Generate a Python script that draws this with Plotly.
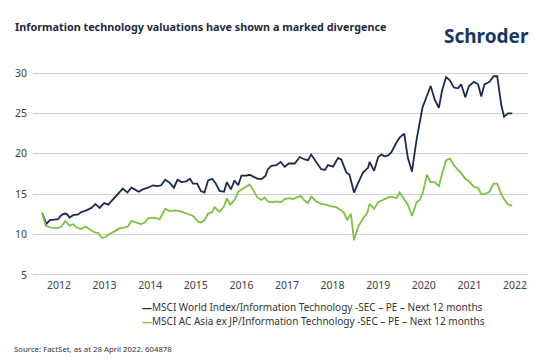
import plotly.graph_objects as go

# Time in fractional years
world_t = [2012.13, 2012.22, 2012.30, 2012.40, 2012.48, 2012.55, 2012.62, 2012.68, 2012.73, 2012.81,
           2012.92, 2012.99, 2013.10, 2013.21, 2013.30, 2013.39, 2013.49, 2013.58, 2013.68, 2013.79,
           2013.90, 2014.00, 2014.09, 2014.16, 2014.25, 2014.34, 2014.45, 2014.56, 2014.67, 2014.74,
           2014.83, 2014.93, 2015.02, 2015.10, 2015.18, 2015.29, 2015.37, 2015.44, 2015.53, 2015.61,
           2015.69, 2015.77, 2015.86, 2015.93, 2016.02, 2016.12, 2016.18, 2016.27, 2016.35, 2016.43,
           2016.50, 2016.61, 2016.68, 2016.75, 2016.86, 2016.95, 2017.03,
           2017.08, 2017.16, 2017.27, 2017.36, 2017.45, 2017.54, 2017.67, 2017.78, 2017.89, 2017.96,
           2018.03, 2018.14, 2018.25, 2018.33, 2018.40, 2018.51, 2018.62, 2018.69, 2018.80, 2018.87,
           2018.97, 2019.06, 2019.17, 2019.28, 2019.31, 2019.41, 2019.50, 2019.57, 2019.64, 2019.72,
           2019.79, 2019.90, 2019.97, 2020.07, 2020.15, 2020.24, 2020.34, 2020.47, 2020.56, 2020.65,
           2020.74, 2020.83, 2020.90, 2020.99, 2021.07, 2021.16, 2021.25, 2021.32, 2021.41, 2021.49,
           2021.60, 2021.69, 2021.76, 2021.83, 2021.94, 2022.03, 2022.11, 2022.20, 2022.26, 2022.35,
           2022.44]
world_pe = [12.7, 11.3, 11.8, 11.9, 11.9, 12.4, 12.6, 12.5, 12.1, 12.4,
            12.5, 12.8, 13.0, 13.3, 13.8, 13.3, 13.9, 13.7, 14.3, 15.0,
            15.7, 15.2, 15.8, 15.6, 15.3, 15.6, 15.8, 16.1, 16.0, 16.1,
            16.8, 16.4, 15.8, 16.8, 16.5, 16.6, 16.9, 16.3, 16.3, 15.4,
            15.2, 16.7, 16.9, 16.4, 15.4, 15.3, 16.5, 15.6, 16.7, 16.1,
            17.3, 17.3, 17.4, 17.2, 16.9, 16.9, 17.3,
            18.1, 18.5, 18.6, 19.0, 18.4, 18.8, 18.8, 19.6, 19.3, 19.2,
            19.9, 19.0, 18.1, 18.0, 18.6, 18.4, 19.5, 19.3, 17.7, 17.4,
            15.2, 16.4, 17.7, 18.3, 19.0, 17.9, 19.6, 19.9, 19.7, 19.8,
            20.2, 21.4, 22.0, 22.5, 19.5, 17.8, 21.7, 25.7, 27.0, 28.4,
            26.7, 25.7, 27.8, 29.5, 29.1, 28.2, 28.1, 28.6, 27.0, 28.4,
            28.9, 28.6, 27.1, 28.6, 28.9, 29.6, 29.6, 26.0, 24.6, 25.0,
            25.0]

asia_t = [2012.13, 2012.21, 2012.30, 2012.40, 2012.48, 2012.55, 2012.64, 2012.73, 2012.81, 2012.88,
          2012.98, 2013.08, 2013.17, 2013.27, 2013.36, 2013.44, 2013.52, 2013.61, 2013.72, 2013.83,
          2013.94, 2014.01, 2014.09, 2014.20, 2014.29, 2014.38, 2014.45, 2014.60, 2014.71, 2014.83,
          2014.93, 2015.04, 2015.15, 2015.26, 2015.37, 2015.44, 2015.55, 2015.62, 2015.69, 2015.77,
          2015.86, 2015.91, 2016.02, 2016.12, 2016.18, 2016.26, 2016.35, 2016.43, 2016.54, 2016.61,
          2016.68, 2016.75, 2016.85, 2016.94, 2017.01,
          2017.08, 2017.17, 2017.27, 2017.36, 2017.45, 2017.54, 2017.63, 2017.70, 2017.80, 2017.87,
          2017.96, 2018.03, 2018.14, 2018.25, 2018.36, 2018.47, 2018.58, 2018.69, 2018.75, 2018.82,
          2018.90, 2018.97, 2019.06, 2019.17, 2019.26, 2019.31, 2019.41, 2019.50, 2019.60, 2019.72,
          2019.80, 2019.90, 2019.97, 2020.07, 2020.15, 2020.24, 2020.34, 2020.41, 2020.48, 2020.57,
          2020.65, 2020.74, 2020.83, 2020.90, 2020.99, 2021.07, 2021.16, 2021.25, 2021.32, 2021.41,
          2021.49, 2021.60, 2021.69, 2021.76, 2021.83, 2021.94, 2022.03, 2022.11, 2022.20, 2022.27,
          2022.35, 2022.44]
asia_pe = [12.7, 11.1, 10.9, 10.8, 10.8, 11.0, 11.7, 11.1, 11.3, 10.9,
           10.7, 11.0, 10.7, 10.3, 10.2, 9.6, 9.7, 10.1, 10.4, 10.8,
           10.9, 11.0, 11.7, 11.5, 11.3, 11.5, 12.0, 12.1, 11.9, 13.2,
           12.9, 13.0, 12.9, 12.7, 12.4, 12.3, 11.6, 11.5, 11.8, 12.6,
           12.8, 13.4, 12.8, 13.5, 14.5, 13.7, 14.3, 15.3, 15.7, 16.0,
           16.2, 15.6, 14.6, 14.3, 14.6,
           14.1, 14.0, 14.1, 14.0, 14.4, 14.5, 14.4, 14.6, 14.8, 14.3,
           13.9, 14.7, 14.1, 13.8, 13.7, 13.5, 13.4, 13.0, 12.7, 11.8,
           12.6, 9.3, 11.0, 12.0, 12.7, 13.8, 13.2, 14.0, 14.3, 14.6,
           14.7, 14.5, 15.2, 14.3, 13.7, 12.3, 14.0, 14.3, 15.2, 17.4,
           16.5, 16.5, 16.0, 17.5, 19.2, 19.4, 18.6, 18.0, 17.6, 16.9,
           16.6, 15.9, 15.8, 15.0, 15.0, 15.3, 16.3, 16.3, 15.0, 14.3,
           13.7, 13.6]

year_ticks = [2012.5, 2013.5, 2014.5, 2015.5, 2016.5, 2017.5, 2018.5, 2019.5, 2020.5, 2021.5, 2022.5]
year_labels = ["2012", "2013", "2014", "2015", "2016", "2017", "2018", "2019", "2020", "2021", "2022"]
y_ticks = [5, 10, 15, 20, 25, 30]

series_names = ["MSCI World Index/Information Technology -SEC – PE – Next 12 months",
                "MSCI AC Asia ex JP/Information Technology -SEC – PE – Next 12 months"]

NAVY = "#1c2b4b"
GREEN = "#7cc143"
FONT = "Noto Sans"

fig = go.Figure()
fig.add_trace(go.Scatter(x=world_t, y=world_pe, mode="lines", name=series_names[0],
                         line=dict(color=NAVY, width=1.8)))
fig.add_trace(go.Scatter(x=asia_t, y=asia_pe, mode="lines", name=series_names[1],
                         line=dict(color=GREEN, width=1.8)))

fig.update_layout(
    width=537, height=360,
    margin=dict(l=25, r=17, t=63, b=91, autoexpand=False),
    paper_bgcolor="white", plot_bgcolor="white",
    font=dict(family=FONT, color="#404040", size=10),
    showlegend=False,
    xaxis=dict(range=[2011.93, 2022.785], tickmode="array", tickvals=year_ticks,
               ticktext=year_labels, showgrid=False, zeroline=False, showline=False,
               ticks="", tickfont=dict(size=10.5, color="#404040")),
    yaxis=dict(range=[4.75, 30.25], tickmode="array", tickvals=y_ticks,
               showgrid=True, gridcolor="#d0d0d0", gridwidth=1, zeroline=False,
               showline=False, ticks="", ticklabelstandoff=5,
               tickfont=dict(size=10.5, color="#404040")),
)

# Legend drawn as text entries (short coloured dash + series name)
legend_colors = [NAVY, GREEN]
for i, (nm, col) in enumerate(zip(series_names, legend_colors)):
    fig.add_annotation(
        text=f"<span style='color:{col}'><b>—</b></span>{nm}",
        xref="paper", yref="paper", x=0.217, y=-0.145 - i * 0.068,
        xanchor="left", yanchor="middle", showarrow=False,
        font=dict(size=10, color="#333333", family=FONT))

fig.add_annotation(text="<b>Information technology valuations have shown a marked divergence</b>",
                   xref="paper", yref="paper", x=-0.04, y=1.215, xanchor="left", yanchor="middle",
                   showarrow=False, font=dict(size=10.8, color="#1f2a44", family=FONT))
fig.add_annotation(text="<b>Schroders</b>",
                   xref="paper", yref="paper", x=1.024, y=1.17, xanchor="right", yanchor="middle",
                   showarrow=False, font=dict(size=19, color="#1b3564", family=FONT))
fig.add_annotation(text="Source: FactSet, as at 28 April 2022. 604878",
                   xref="paper", yref="paper", x=-0.042, y=-0.35, xanchor="left", yanchor="middle",
                   showarrow=False, font=dict(size=7.8, color="#333333", family=FONT))

fig.write_html("out.html")
